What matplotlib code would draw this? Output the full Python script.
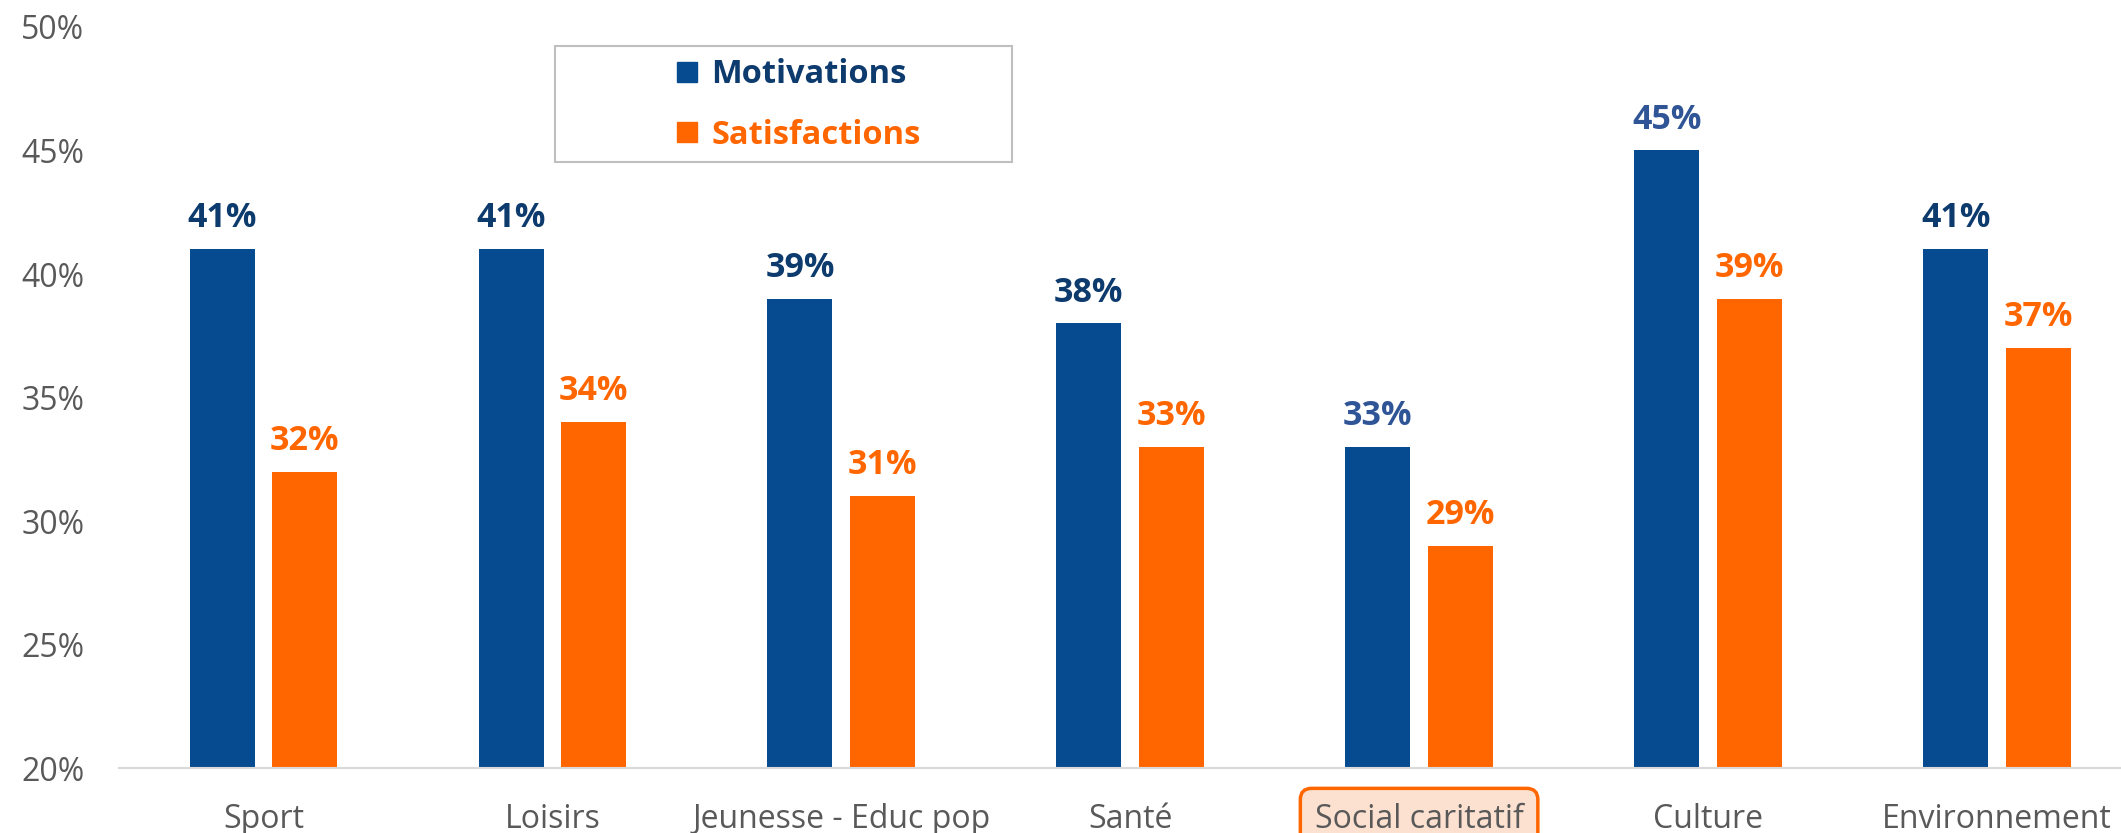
import matplotlib.pyplot as plt
from matplotlib.lines import Line2D
from matplotlib.patches import Rectangle
import numpy as np

# === data ===
categories = ['Sport', 'Loisirs', 'Jeunesse - Educ pop', 'Santé',
              'Social caritatif', 'Culture', 'Environnement']
motivations = [41, 41, 39, 38, 33, 45, 41]
satisfactions = [32, 34, 31, 33, 29, 39, 37]
mot_label_colors = ['#0d3b6e', '#0d3b6e', '#0d3b6e', '#0d3b6e',
                    '#2f5597', '#2f5597', '#0d3b6e']
highlight = 'Social caritatif'

blue = '#064a8f'
orange = '#ff6600'
grey_txt = '#595959'

plt.rcParams['font.family'] = ['Open Sans', 'DejaVu Sans']

fig = plt.figure(figsize=(21.21, 8.33), dpi=100)
ax = fig.add_axes([0.0561, 0.078, 0.9535, 0.8896])

x = np.arange(len(categories))
w = 0.225
off = 0.143
b1 = ax.bar(x - off, motivations, w, bottom=0, color=blue)
b2 = ax.bar(x + off, satisfactions, w, bottom=0, color=orange)

ax.set_ylim(20, 50)
ax.set_xlim(-0.5, len(categories) - 0.5)

# value labels
for rect, v, c in zip(b1, motivations, mot_label_colors):
    ax.annotate(f'{v}%', (rect.get_x() + rect.get_width() / 2, v),
                xytext=(0, 10), textcoords='offset points',
                ha='center', va='bottom', fontsize=24.5, fontweight='bold', color=c)
for rect, v in zip(b2, satisfactions):
    ax.annotate(f'{v}%', (rect.get_x() + rect.get_width() / 2, v),
                xytext=(0, 10), textcoords='offset points',
                ha='center', va='bottom', fontsize=24.5, fontweight='bold', color=orange)

# axes styling
for s in ['top', 'right', 'left']:
    ax.spines[s].set_visible(False)
ax.spines['bottom'].set_color('#d9d9d9')
ax.spines['bottom'].set_linewidth(1.5)

ax.set_yticks(range(20, 51, 5))
ax.set_yticklabels([f'{t}%' for t in range(20, 51, 5)])
ax.set_xticks(x)
ax.set_xticklabels(categories)
ax.tick_params(axis='y', length=0, pad=25, labelsize=23, labelcolor=grey_txt)
ax.tick_params(axis='x', length=0, pad=25, labelsize=23, labelcolor=grey_txt)

for lbl in ax.get_xticklabels():
    if lbl.get_text() == highlight:
        lbl.set_bbox(dict(boxstyle='round,pad=0.45,rounding_size=0.35',
                          facecolor='#fde1d0', edgecolor=orange, linewidth=2.5))

# legend
handles = [Line2D([], [], marker='s', linestyle='', markersize=15, color=blue),
           Line2D([], [], marker='s', linestyle='', markersize=15, color=orange)]
leg = ax.legend(handles, ['Motivations', 'Satisfactions'], loc='upper left',
                bbox_to_anchor=(672 / 2121, 1 - 58 / 833), bbox_transform=fig.transFigure,
                frameon=False, prop={'weight': 'bold', 'size': 23.5},
                labelcolor=['#0d3b6e', orange], handletextpad=0.3,
                labelspacing=0.85, handlelength=0.9, borderpad=0, borderaxespad=0)
fig.patches.append(Rectangle((555 / 2121, 1 - 162 / 833), 457 / 2121, 116 / 833,
                             transform=fig.transFigure, fill=False,
                             edgecolor='#bfbfbf', linewidth=1.5))

plt.savefig('out.png', dpi=100)
